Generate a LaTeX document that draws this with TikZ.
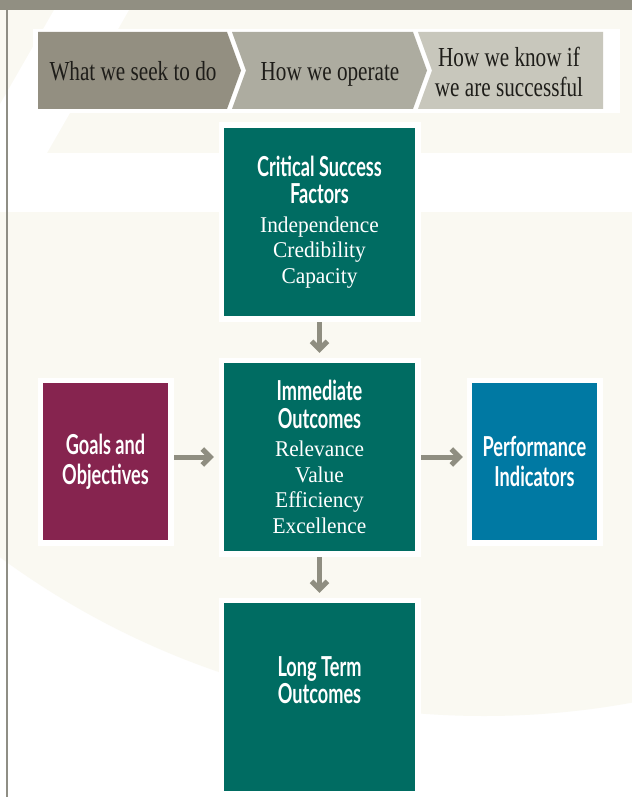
\documentclass[tikz,border=0pt]{standalone}
\usepackage{fontspec}
\setmainfont{Liberation Serif}
\newfontfamily\headfont[FakeStretch=0.77]{Liberation Serif}
\newfontfamily\itemfont[FakeStretch=0.95]{Liberation Serif}
\newfontfamily\condfont[FakeStretch=0.66]{Lato}
\usetikzlibrary{arrows.meta}

\definecolor{topgray}{HTML}{918F82}
\definecolor{linegray}{HTML}{8F8E85}
\definecolor{segA}{HTML}{938F81}
\definecolor{segB}{HTML}{ADACA0}
\definecolor{segC}{HTML}{C8C7BC}
\definecolor{cream}{HTML}{FAF9F2}
\definecolor{tealbox}{HTML}{006C62}
\definecolor{plumbox}{HTML}{86244F}
\definecolor{bluebox}{HTML}{0079A3}
\definecolor{arrowgray}{HTML}{8F8E81}
\definecolor{inktext}{HTML}{1E1D19}

\tikzset{
  panel/.style={inner sep=0pt, minimum width=191pt, minimum height=188pt,
    fill=tealbox, text=white, align=center,
    preaction={draw=white, line width=11pt},
    font=\itemfont\fontsize{22.5}{25.5}\selectfont},
  sidepanel/.style={panel, minimum width=125pt, minimum height=157pt,
    fill=#1, font=\condfont\bfseries\fontsize{27.5}{30}\selectfont},
  headtext/.style={text=inktext, inner sep=0pt, align=center,
    font=\headfont\fontsize{27.5}{30}\selectfont},
  flow/.style={draw=arrowgray, line width=5pt,
    -{Straight Barb[length=8pt,width=16pt]}},
}
\newcommand{\ttl}[1]{{\condfont\bfseries\fontsize{27.5}{27}\selectfont #1}}

\begin{document}
\begin{tikzpicture}[x=1pt, y=-1pt]
  \useasboundingbox (0,0) rectangle (632,797);

  % page background: white sheet, cream wash cut by a large arc
  \fill[white] (0,0) rectangle (632,797);
  \begin{scope}
    \clip (484,-101) circle[radius=817pt];
    \fill[cream] (0,10) rectangle (632,797);
  \end{scope}
  \fill[white] (54,10) -- (129,10) -- (47,153) -- (-28,153) -- cycle;
  \fill[white] (0,153) rectangle (632,212);

  % top rule and left margin line
  \fill[topgray] (0,0) rectangle (632,10);
  \draw[linegray, line width=1.3pt] (7,10) -- (7,797);

  % chevron header
  \fill[white] (33,29) rectangle (620,113);
  \fill[segA] (38,32) -- (227,32) -- (241,70.5) -- (227,109) -- (38,109) -- cycle;
  \fill[segB] (232,32) -- (413,32) -- (427,70.5) -- (413,109) -- (232,109) -- (246,70.5) -- cycle;
  \fill[segC] (418,32) -- (603,32) -- (603,109) -- (418,109) -- (432,70.5) -- cycle;

  \node[headtext, anchor=base] (hA) at (133,81) {What we seek to do};
  \node[headtext, anchor=base] (hB) at (330,81) {How we operate};
  \node[headtext] (hC) at (509,72) {How we know if\\we are successful};

  % boxes
  \node[panel] (csf) at (319.5,222)
    {\ttl{Critical Success}\\[1.5pt]\ttl{Factors}\\[3.5pt]Independence\\Credibility\\Capacity};
  \node[panel] (io) at (319.5,457)
    {\ttl{Immediate}\\[2.5pt]\ttl{Outcomes}\\[2.5pt]Relevance\\Value\\Efficiency\\Excellence};
  \node[panel, label={[text=white, align=center, yshift=16.5pt,
      font=\condfont\bfseries\fontsize{27.5}{27}\selectfont]center:Long Term\\Outcomes}]
    (lto) at (319.5,697) {};
  \node[sidepanel=plumbox] (goals) at (105.5,461.5) {Goals and\\Objectives};
  \node[sidepanel=bluebox] (perf) at (534.5,461.5) {Performance\\Indicators};

  % connectors
  \draw[flow, shorten <=6pt, shorten >=10pt] (csf.south) -- (io.north);
  \draw[flow, shorten <=6pt, shorten >=10pt] (io.south) -- (lto.north);
  \draw[flow, shorten <=6pt, shorten >=10pt] (io.west -| goals.east) -- (io.west);
  \draw[flow, shorten <=6pt, shorten >=9pt] (io.east) -- (io.east -| perf.west);
\end{tikzpicture}
\end{document}
